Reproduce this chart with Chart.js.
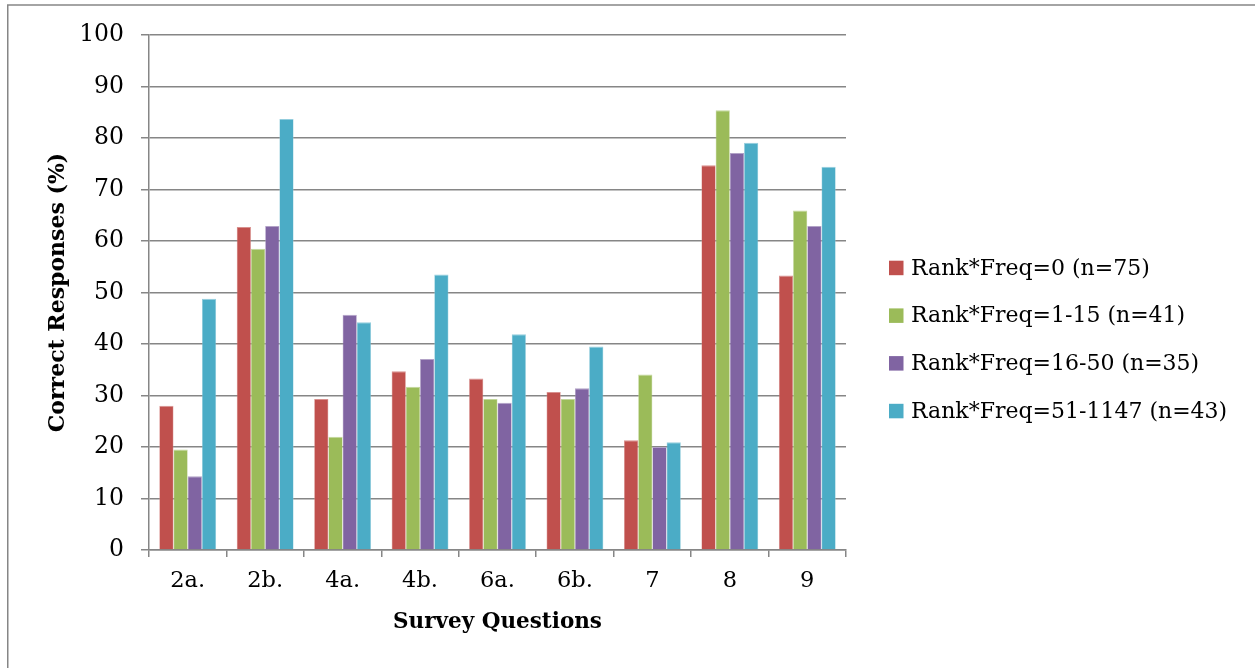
<!DOCTYPE html>
<html>
<head>
<meta charset="utf-8">
<title>Correct Responses by Rank*Freq Group</title>
<script src="https://cdn.jsdelivr.net/npm/chart.js@4.4.1/dist/chart.umd.min.js"></script>
<style>
  html, body { margin: 0; padding: 0; background: #ffffff; }
  #wrap { position: relative; width: 1255px; height: 668px; }
</style>
</head>
<body>
<div id="wrap"><canvas id="chart" width="1255" height="668"></canvas></div>
<script>
// Survey questions on the category axis
const questions = ['2a.', '2b.', '4a.', '4b.', '6a.', '6b.', '7', '8', '9'];

// Percentage of correct responses per group
const rankFreq0      = [28.0, 62.7, 29.3, 34.7, 33.3, 30.7, 21.3, 74.7, 53.3]; // n=75
const rankFreq1to15  = [19.5, 58.5, 22.0, 31.7, 29.3, 29.3, 34.1, 85.4, 65.9]; // n=41
const rankFreq16to50 = [14.3, 62.9, 45.7, 37.1, 28.6, 31.4, 20.0, 77.1, 62.9]; // n=35
const rankFreq51plus = [48.8, 83.7, 44.2, 53.5, 41.9, 39.5, 20.9, 79.1, 74.4]; // n=43

const seriesLabels = [
  'Rank*Freq=0 (n=75)',
  'Rank*Freq=1-15 (n=41)',
  'Rank*Freq=16-50 (n=35)',
  'Rank*Freq=51-1147 (n=43)'
];

// Value axis ticks
const yTicks = [0, 10, 20, 30, 40, 50, 60, 70, 80, 90, 100];

const FILLS   = ['#C0504D', '#9BBB59', '#8064A2', '#4BACC6'];
const EDGES   = ['#D8908E', '#C2D69B', '#B2A2C7', '#93CDDD'];
const GRID    = '#868686';
const FONT    = '"DejaVu Serif", "Liberation Serif", serif';

const seriesValues = [rankFreq0, rankFreq1to15, rankFreq16to50, rankFreq51plus];

// Outer frame lines (top and left edge of the figure)
const framePlugin = {
  id: 'frame',
  beforeDraw(chart) {
    const ctx = chart.ctx;
    ctx.save();
    ctx.fillStyle = '#ffffff';
    ctx.fillRect(0, 0, chart.width, chart.height);
    ctx.strokeStyle = GRID;
    ctx.lineWidth = 1.5;
    ctx.beginPath();
    ctx.moveTo(chart.width, 5);
    ctx.lineTo(7.75, 5);
    ctx.lineTo(7.75, chart.height);
    ctx.stroke();
    ctx.restore();
  }
};

// Vertical legend to the right of the plot
const sideLegend = {
  id: 'sideLegend',
  afterDraw(chart) {
    const ctx = chart.ctx;
    const area = chart.chartArea;
    const sets = chart.data.datasets;
    const rowGap = 47.7;
    const boxSize = 14.5;
    const boxX = area.right + 43;
    const textX = boxX + 22;
    const midY = 339.5;
    const firstY = midY - rowGap * (sets.length - 1) / 2;
    ctx.save();
    ctx.font = '22px ' + FONT;
    ctx.textBaseline = 'middle';
    ctx.textAlign = 'left';
    sets.forEach((ds, i) => {
      const cy = firstY + i * rowGap;
      ctx.fillStyle = ds.backgroundColor;
      ctx.fillRect(boxX, cy - boxSize / 2, boxSize, boxSize);
      ctx.fillStyle = '#000000';
      ctx.fillText(ds.label, textX, cy + 1);
    });
    ctx.restore();
  }
};

const datasets = seriesValues.map((vals, i) => ({
  label: seriesLabels[i],
  data: vals,
  backgroundColor: FILLS[i],
  borderColor: EDGES[i],
  borderWidth: { top: 1, left: 0.6, right: 0.6, bottom: 0 },
  categoryPercentage: 0.734,
  barPercentage: 1.0
}));

new Chart(document.getElementById('chart'), {
  type: 'bar',
  data: { labels: questions, datasets },
  options: {
    responsive: false,
    animation: false,
    devicePixelRatio: 1,
    layout: { padding: { top: 35, left: 0, right: 409, bottom: 0 } },
    plugins: {
      legend: { display: false },
      tooltip: { enabled: false }
    },
    scales: {
      x: {
        grid: {
          display: true,
          offset: true,
          drawOnChartArea: false,
          drawTicks: true,
          tickLength: 7,
          color: GRID,
          lineWidth: 1.5
        },
        border: { display: true, color: GRID, width: 1.5 },
        ticks: {
          color: '#000000',
          font: { family: FONT, size: 22.5 },
          padding: 11,
          maxRotation: 0
        },
        title: {
          display: true,
          text: 'Survey Questions',
          color: '#000000',
          font: { family: FONT, size: 21.5, weight: 'bold' },
          padding: { top: 0, bottom: 33 }
        },
        afterFit(scale) { scale.height = 118; }
      },
      y: {
        min: 0,
        max: 100,
        afterBuildTicks(scale) { scale.ticks = yTicks.map(v => ({ value: v })); },
        grid: {
          color: GRID,
          lineWidth: 1.5,
          drawTicks: true,
          tickLength: 8
        },
        border: { display: true, color: GRID, width: 1.5 },
        ticks: {
          color: '#000000',
          font: { family: FONT, size: 23.5 },
          padding: 17
        },
        title: {
          display: true,
          text: 'Correct Responses (%)',
          color: '#000000',
          font: { family: FONT, size: 22, weight: 'bold' },
          padding: { top: 45, bottom: 0 }
        },
        afterFit(scale) { scale.width = 149; }
      }
    }
  },
  plugins: [framePlugin, sideLegend]
});
</script>
</body>
</html>
